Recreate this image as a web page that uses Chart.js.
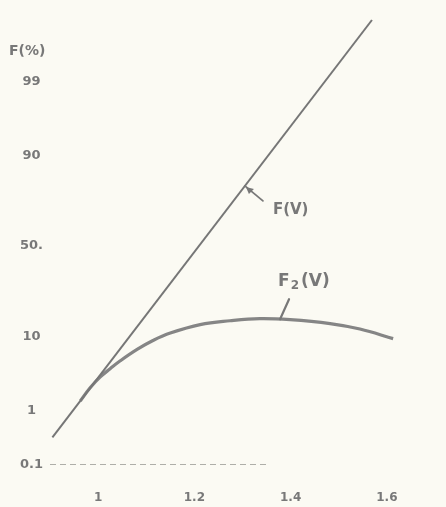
<!DOCTYPE html>
<html>
<head>
<meta charset="utf-8">
<script src="https://cdn.jsdelivr.net/npm/chart.js@4"></script>
<style>
body { margin: 0; background: #fbfaf3; }
#wrap { width: 446px; height: 507px; }
</style>
</head>
<body>
<div id="wrap"><canvas id="myChart" width="446" height="507"></canvas></div>
<script>
// values (V on x, F in percent on y)
const vLine = [0.905, 1.569]
const fLine = [0.34, 99.93]

const vCurve = [0.963, 0.983, 1.004, 1.025, 1.046, 1.081, 1.114, 1.150, 1.212, 1.274, 1.336, 1.399, 1.482, 1.544, 1.613]
const fCurve = [1.42, 2.23, 3.18, 4.13, 5.22, 7.18, 9.06, 10.9, 13.3, 14.5, 15.2, 14.85, 13.6, 12.0, 9.5]

const vBase = [0.9, 1.357]
const fBase = [0.1, 0.1]

const xTicks = [1, 1.2, 1.4, 1.6]
const xTickLabels = ["1", "1.2", "1.4", "1.6"]
const yTicks = [0.1, 1, 10, 50, 90, 99]
const yTickLabels = ["0.1", "1", "10", "50.", "90", "99"]

const ink = "#787878"
const font = "DejaVu Sans"

// normal quantile, so the y axis behaves like probability paper
const probit = (pct) => {
    const p = pct / 100
    const a = [-3.969683028665376e+01, 2.209460984245205e+02, -2.759285104469687e+02, 1.383577518672690e+02, -3.066479806614716e+01, 2.506628277459239e+00]
    const b = [-5.447609879822406e+01, 1.615858368580409e+02, -1.556989798598866e+02, 6.680131188771972e+01, -1.328068155288572e+01]
    const c = [-7.784894002430293e-03, -3.223964580411365e-01, -2.400758277161838e+00, -2.549732539343734e+00, 4.374664141464968e+00, 2.938163982698783e+00]
    const d = [7.784695709041462e-03, 3.224671290700398e-01, 2.445134137142996e+00, 3.754408661907416e+00]
    const tail = (q) => (((((c[0]*q+c[1])*q+c[2])*q+c[3])*q+c[4])*q+c[5]) / ((((d[0]*q+d[1])*q+d[2])*q+d[3])*q+1)
    if (p < 0.02425) return tail(Math.sqrt(-2 * Math.log(p)))
    if (p > 1 - 0.02425) return -tail(Math.sqrt(-2 * Math.log(1 - p)))
    const q = p - 0.5, r = q * q
    return (((((a[0]*r+a[1])*r+a[2])*r+a[3])*r+a[4])*r+a[5])*q / (((((b[0]*r+b[1])*r+b[2])*r+b[3])*r+b[4])*r+1)
}

const toPoints = (vs, fs) => vs.map((v, i) => ({ x: v, y: probit(fs[i]) }))

const notes = {
    id: "notes",
    afterDatasetsDraw(chart) {
        const { ctx, scales: { x, y } } = chart
        const px = (v, f) => [x.getPixelForValue(v), y.getPixelForValue(probit(f))]
        ctx.save()
        ctx.fillStyle = ink
        ctx.strokeStyle = ink
        ctx.lineCap = "round"
        ctx.textBaseline = "middle"

        // axis title
        ctx.font = `bold 14px ${font}`
        ctx.fillText("F(%)", 9, 51)

        // F(V) pointer and label
        const [ax, ay] = px(1.305, 80.2)
        ctx.lineWidth = 1.8
        ctx.beginPath()
        ctx.moveTo(ax, ay)
        ctx.lineTo(ax + 18, ay + 15)
        ctx.stroke()
        ctx.beginPath()
        ctx.moveTo(ax + 1, ay + 1)
        ctx.lineTo(ax + 9, ay + 3)
        ctx.lineTo(ax + 4, ay + 8)
        ctx.closePath()
        ctx.fill()
        ctx.font = `bold 15px ${font}`
        ctx.fillText("F(V)", ax + 28, ay + 24)

        // F2(V) pointer and label
        const [tx, ty] = px(1.378, 15.0)
        ctx.lineWidth = 2.2
        ctx.beginPath()
        ctx.moveTo(tx, ty)
        ctx.lineTo(tx + 9, ty - 20)
        ctx.stroke()
        ctx.font = `bold 17px ${font}`
        ctx.fillText("F", tx - 2, ty - 38)
        const fw = ctx.measureText("F").width
        ctx.font = `bold 12px ${font}`
        ctx.fillText("2", tx - 1 + fw, ty - 33)
        const sw = ctx.measureText("2").width
        ctx.font = `bold 17px ${font}`
        ctx.fillText("(V)", tx + 1 + fw + sw, ty - 38)
        ctx.restore()
    }
}

new Chart(document.getElementById("myChart"), {
    type: "scatter",
    data: {
        datasets: [
            {
                data: toPoints(vLine, fLine),
                showLine: true,
                borderColor: "#767676",
                borderWidth: 2,
                pointRadius: 0
            },
            {
                data: toPoints(vCurve, fCurve),
                showLine: true,
                borderColor: "#858585",
                borderWidth: 3.2,
                tension: 0.4,
                pointRadius: 0
            },
            {
                data: toPoints(vBase, fBase),
                showLine: true,
                borderColor: "#aeaea8",
                borderWidth: 1.2,
                borderDash: [6, 4],
                pointRadius: 0
            }
        ]
    },
    options: {
        responsive: false,
        animation: false,
        layout: { padding: { top: 10, right: 11, left: 0, bottom: 0 } },
        plugins: {
            legend: { display: false },
            tooltip: { enabled: false }
        },
        scales: {
            x: {
                type: "linear",
                min: 0.9,
                max: 1.7,
                grid: { display: false, drawTicks: false },
                border: { display: false },
                afterBuildTicks: (scale) => { scale.ticks = xTicks.map(v => ({ value: v })) },
                afterFit: (scale) => { scale.height = 22 },
                ticks: {
                    color: ink,
                    padding: 6,
                    maxRotation: 0,
                    font: { family: font, size: 12, weight: "bold" },
                    callback: (value, index) => xTickLabels[index]
                }
            },
            y: {
                type: "linear",
                min: -3.38,
                max: 3.268,
                grid: { display: false, drawTicks: false },
                border: { display: false },
                afterBuildTicks: (scale) => { scale.ticks = yTicks.map(p => ({ value: probit(p) })) },
                afterFit: (scale) => { scale.width = 50 },
                ticks: {
                    color: ink,
                    padding: 7,
                    crossAlign: "center",
                    font: { family: font, size: 13, weight: "bold" },
                    callback: (value, index) => yTickLabels[index]
                }
            }
        }
    },
    plugins: [notes]
})
</script>
</body>
</html>
